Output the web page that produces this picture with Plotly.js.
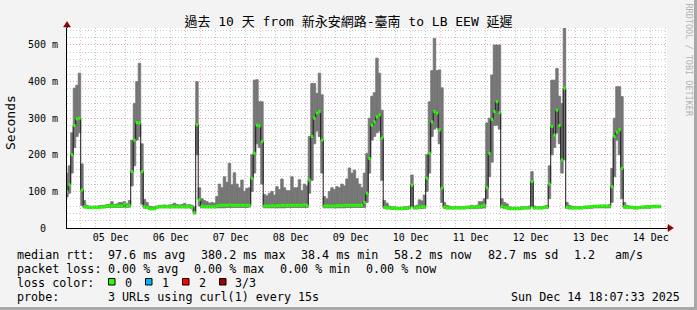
<!DOCTYPE html>
<html>
<head>
<meta charset="utf-8">
<script src="https://cdn.plot.ly/plotly-3.0.1.min.js"></script>
<style>
html,body{margin:0;padding:0;background:#f3f3f3;}
#chart{width:697px;height:310px;}
</style>
</head>
<body>
<div id="chart"></div>
<script>
// ---- data (hourly bins, first bin = 2025-12-04 18:00) ----
const medianMs = [
 100,118,200,280,298,300,
 104,58,56,56,56,56,56,56,57,58, 60,60,60,60,60,60,60,65,60,62, 154,240,288,287,
 154,58,56,54,52,53,56,58,58,58, 58,58,58,58,58,58,58,58,58,58, 56,42,282,77,
 60,58,58,58,58,58,60,62,62,62, 62,63,62,62,62,62,62,62,62,62, 136,204,281,279,
 236,60,60,60,61,60,61,61,62,62, 62,62,62,62,62,62,62,63,62,131, 250,300,314,318,
 240,60,60,60,60,60,61,61,61,62, 62,62,62,62,62,62,62,70,95,190, 281,290,304,309,
 246,56,55,55,54,54,53,53,53,54, 54,55,117,55,55,57,58,58,136,204, 290,318,314,268,
 109,57,55,55,55,55,55,55,55,55, 56,57,57,57,57,58,60,62,110,204, 297,318,345,315,
 60,56,55,54,53,53,53,53,54,55, 55,55,127,55,55,55,55,56,57,120, 277,254,322,280,
 186,382,57,55,55,55,55,55,55,56, 57,58,58,59,59,60,60,60,60,60, 113,250,262,268,
 163,58,57,57,56,55,55,56,57,57, 58,58,58,59,59,59
];
const minMs = [
 85,95,150,220,250,260,
 62,55,54,54,54,54,54,54,55,55, 56,56,56,56,56,56,56,57,56,57, 115,170,240,250,
 65,54,53,51,50,50,53,55,55,55, 55,55,55,55,55,55,55,55,55,55, 52,38,200,60,
 55,55,55,55,55,55,55,55,55,55, 56,56,56,56,56,56,56,56,56,57, 100,150,230,220,
 120,55,55,55,55,55,55,55,55,55, 56,56,56,56,56,56,56,56,56,95, 130,230,265,250,
 150,55,55,55,55,55,55,55,55,55, 56,56,56,56,56,56,56,56,70,150, 240,250,260,265,
 130,53,52,52,51,51,50,50,50,51, 51,52,60,52,52,53,53,54,100,150, 250,270,275,230,
 70,54,52,52,52,52,52,52,52,52, 53,53,53,53,53,54,54,55,80,140, 180,280,281,270,
 55,53,52,51,50,50,50,50,51,52, 52,52,60,52,52,52,52,53,53,80, 200,220,260,230,
 150,186,53,52,52,52,52,52,52,53, 53,54,54,55,55,55,55,55,55,55, 70,140,240,200,
 80,54,54,54,53,52,52,53,54,54, 54,54,55,55,55,55
];
const maxMs = [
 150,170,260,382,390,423,
 175,75,62,60,60,60,60,61,62,62, 64,65,72,64,66,70,70,72,66,75, 240,340,400,450,
 230,78,70,60,58,58,60,62,62,63, 62,63,64,68,64,63,64,67,63,64, 62,58,400,110,
 80,75,72,68,70,68,86,120,110,140, 125,177,118,151,120,110,131,100,108,110, 200,404,405,345,
 345,92,88,95,100,90,113,105,134,110, 102,102,140,110,110,132,102,120,115,250, 395,395,368,423,
 364,86,80,100,110,105,113,110,120,115, 134,164,150,158,135,120,110,150,204,300, 360,370,464,423,
 322,75,68,60,58,58,57,57,57,58, 58,60,145,60,62,77,74,90,200,345, 430,518,430,432,
 383,70,62,60,58,58,58,58,58,58, 60,60,62,60,62,72,72,80,287,300, 418,500,500,500,
 80,70,66,58,57,57,57,57,58,58, 58,60,154,60,58,58,58,60,62,170, 404,404,436,360,
 340,550,70,62,60,58,58,58,58,60, 60,60,61,62,62,62,62,63,62,64, 163,300,386,386,
 359,70,62,60,60,58,58,58,60,60, 61,61,62,62,62,62
];
const yTickVals = [0,100,200,300,400,500];
const yTickText = ['0\u00a0\u00a0','100 m','200 m','300 m','400 m','500 m'];
const titleText = '過去 10 天 from 新永安網路-臺南 to LB EEW 延遲';
const legendRows = [
 [['median rtt:',16],['97.6 ms avg',107.3],['380.2 ms max',200],['38.4 ms min',300],['58.2 ms now',393.3],['82.7 ms sd',486.7],['1.2',573.3],['am/s',614]],
 [['packet loss:',16],['0.00 % avg',107.3],['0.00 % max',193.3],['0.00 % min',279.3],['0.00 % now',365]],
 [['loss color:',16],['0',124],['1',161],['2',198],['3/3',234]],
 [['probe:',16],['3 URLs using curl(1) every 15s',107.3]]
];
const lossColors = ['#26ff00','#00b8ff','#ff0000','#a10000'];
const lossBoxX = [108.5,145.5,182.5,219.5];
const stampText = 'Sun Dec 14 18:07:33 2025';

// ---- build ----
const HOUR = 3600000;
const t0 = Date.UTC(2025, 11, 4, 18, 0);
const times = medianMs.map((_, i) => t0 + i * HOUR);
const last = times.length - 1;

const gx = [], gy = [];
medianMs.forEach((v, i) => { gx.push(times[i], times[i] + HOUR, null); gy.push(v, v, null); });

const MONO = 'DejaVu Sans Mono, Noto Sans CJK TC, monospace';
const L = 67, T = 28, W = 600, H = 200;
const px = x => (x - L) / W;
const py = y => (T + H - y) / H;
const SMOKE = '#767676';

const traces = [
 {type:'bar', x: times, base: minMs, y: maxMs.map((v,i)=>v-minMs[i]), width: HOUR, offset: 0,
  marker:{color:SMOKE, line:{color:SMOKE, width:0.8}}, hoverinfo:'skip', showlegend:false},
 {type:'scatter', mode:'lines', x: times.concat([times[last]+HOUR]), y: medianMs.concat([medianMs[last]]),
  line:{shape:'hv', color:'#1a1a1a', width:1}, hoverinfo:'skip', showlegend:false},
 {type:'scatter', mode:'lines', x: gx, y: gy, connectgaps:false,
  line:{color:'#26ff00', width:3}, hoverinfo:'skip', showlegend:false}
];

const ann = [];
legendRows.forEach((row, r) => {
  const yc = [254.5, 268.5, 282.5, 296.5][r];
  row.forEach(([txt, x]) => ann.push({text: txt, x: px(x), y: py(yc), xref:'paper', yref:'paper',
    xanchor:'left', yanchor:'middle', showarrow:false, borderpad:0, font:{family:MONO, size:11.7, color:'#000'}}));
});
ann.push({text: stampText, x: px(681), y: py(296.5), xref:'paper', yref:'paper', xanchor:'right', yanchor:'middle',
  showarrow:false, borderpad:0, font:{family:MONO, size:11.7, color:'#000'}});
ann.push({text:'Seconds', x: px(10.5), y: py(122.5), xref:'paper', yref:'paper', xanchor:'center', yanchor:'middle',
  textangle:-90, showarrow:false, font:{family:MONO, size:13, color:'#000'}});
ann.push({text:'RRDTOOL / TOBI OETIKER', x: px(688.5), y: py(60), xref:'paper', yref:'paper', xanchor:'center', yanchor:'middle',
  textangle:90, showarrow:false, font:{family:MONO, size:8.5, color:'#b4b4b4'}});

const shapes = [];
lossColors.forEach((c, i) => shapes.push({type:'rect', xref:'paper', yref:'paper',
  x0: px(lossBoxX[i]), x1: px(lossBoxX[i]+6.5), y0: py(285), y1: py(278.5),
  fillcolor:c, line:{color:'#000', width:1}}));
shapes.push({type:'path', xref:'paper', yref:'paper', fillcolor:'#8b0000', line:{color:'#8b0000', width:0.5},
  path:`M ${px(63.5)} ${py(27)} L ${px(70.5)} ${py(27)} L ${px(67)} ${py(21.5)} Z`});
shapes.push({type:'path', xref:'paper', yref:'paper', fillcolor:'#8b0000', line:{color:'#8b0000', width:0.5},
  path:`M ${px(668)} ${py(224.5)} L ${px(668)} ${py(231.5)} L ${px(673.5)} ${py(228)} Z`});
shapes.push({type:'line', xref:'paper', yref:'paper', x0:px(667), x1:px(669), y0:0, y1:0, line:{color:'#000', width:1}});
shapes.push({type:'line', xref:'paper', yref:'paper', x0:0, x1:0, y0:1, y1:py(26), line:{color:'#000', width:1}});
shapes.push({type:'rect', xref:'paper', yref:'paper', x0:px(694), x1:px(697.5), y0:py(310.5), y1:py(-0.5), fillcolor:'#a8a8a8', line:{width:0}});
shapes.push({type:'rect', xref:'paper', yref:'paper', x0:px(-0.5), x1:px(697.5), y0:py(310.5), y1:py(307), fillcolor:'#a8a8a8', line:{width:0}});

const layout = {
  width: 697, height: 310,
  margin: {l: L, r: 697 - L - W, t: T, b: 310 - T - H, pad: 0},
  paper_bgcolor: '#f3f3f3', plot_bgcolor: '#ffffff',
  showlegend: false, barmode: 'overlay',
  title: {text: titleText, x: 0.5, xref: 'container', xanchor: 'center', y: 1 - 21.5/310, yref: 'container', yanchor: 'middle',
          font: {family: MONO, size: 13, color: '#000'}},
  xaxis: {type: 'date', range: ['2025-12-04 18:31', '2025-12-14 18:31'], tick0: '2025-12-05', dtick: 86400000,
          ticklabelmode: 'period', tickformat: '%d %b', ticks: '', showline: true, linecolor: '#000', linewidth: 1,
          showgrid: true, gridcolor: 'rgba(240,130,130,0.55)', griddash: '1px,2px', gridwidth: 1, zeroline: false,
          tickfont: {family: MONO, size: 10, color: '#000'},
          minor: {dtick: 6*HOUR, showgrid: true, gridcolor: '#c8c8c8', griddash: '1px,2px', gridwidth: 1}},
  yaxis: {range: [0, 546.4], tickmode: 'array', tickvals: yTickVals, ticktext: yTickText, ticks: '',
          showline: true, linecolor: '#000', linewidth: 1, zeroline: false,
          showgrid: true, gridcolor: 'rgba(240,130,130,0.55)', griddash: '1px,2px', gridwidth: 1,
          tickfont: {family: MONO, size: 10, color: '#000'}, ticklabelstandoff: 6,
          minor: {tickmode: 'linear', tick0: 0, dtick: 20, showgrid: true, gridcolor: '#c8c8c8', griddash: '1px,2px', gridwidth: 1}},
  annotations: ann,
  shapes: shapes
};

Plotly.newPlot('chart', traces, layout, {staticPlot: true, displayModeBar: false});
</script>
</body>
</html>
